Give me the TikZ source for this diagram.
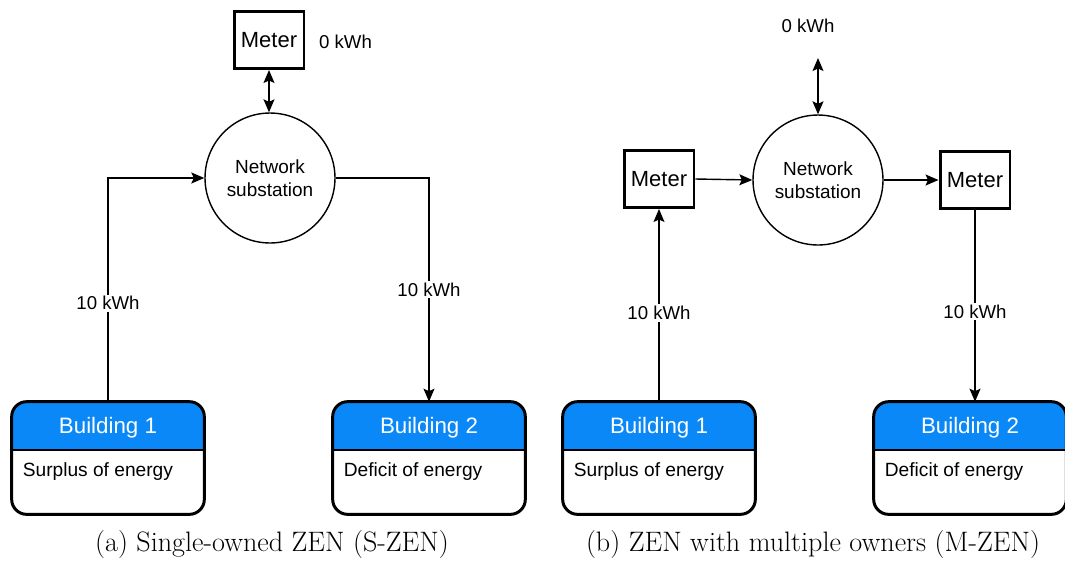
\documentclass[tikz,border=0pt]{standalone}
\usepackage{fontspec}
\newfontfamily\hv{Liberation Sans}
\usetikzlibrary{arrows.meta,calc}
\definecolor{bblue}{HTML}{0A88F8}
\newcommand\mybuilding[4]{%
  \path node[bldshape] (#1) at (#2,458) {};
  \begin{scope}
    \clip (#1.north west) rectangle ($(#1.north east)+(0,48)$);
    \fill[bblue, rounded corners=0.3cm] (#1.north west) rectangle (#1.south east);
  \end{scope}
  \draw[line width=1.7pt, rounded corners=0.3cm] (#1.north west) rectangle (#1.south east);
  \draw[line width=1.2pt] ($(#1.north west)+(0,48)$) -- ($(#1.north east)+(0,48)$);
  \node[btitle] (#1t) at ($(#1.north)+(0,26)$) {#3};
  \node[bbody, anchor=west] (#1b) at ($(#1.north west)+(5,70)$) {#4};
}
\begin{document}
\begin{tikzpicture}[x=0.02cm,y=-0.02cm,
  meterbox/.style={draw, line width=1.7pt, minimum width=1.4cm, minimum height=1.14cm, inner sep=0pt, font=\hv\fontsize{12.5}{14}\selectfont},
  sub/.style={draw, circle, line width=0.8pt, minimum size=2.6cm, inner sep=0pt, align=center, font=\hv\fontsize{10.8}{13}\selectfont},
  lbl/.style={font=\hv\fontsize{10.6}{12}\selectfont, fill=white, inner sep=1pt},
  bldshape/.style={rectangle, minimum width=3.84cm, minimum height=2.24cm, inner sep=0pt, fill=white, rounded corners=0.3cm},
  btitle/.style={text=white, font=\hv\fontsize{12.7}{14}\selectfont},
  bbody/.style={font=\hv\fontsize{10.9}{13}\selectfont},
  conn/.style={line width=0.8pt, -{Stealth[length=0.26cm,width=0.22cm,inset=0.05cm]}},
  dconn/.style={line width=0.8pt, {Stealth[length=0.26cm,width=0.22cm,inset=0.05cm]}-{Stealth[length=0.26cm,width=0.22cm,inset=0.05cm]}},
  captext/.style={font=\fontsize{16}{19}\selectfont}
]
\useasboundingbox (0,0) rectangle (1065,566);

% ---------- (a) ----------
\node[meterbox] (m1) at (269,40) {Meter};
\node[lbl, anchor=west] (t0a) at (317,42) {0 kWh};
\node[sub] (c1) at (270,178) {Network\\substation};
\draw[dconn] (m1.south) -- (m1.south |- c1.north);
\mybuilding{b1}{108}{Building 1}{Surplus of energy}
\mybuilding{b2}{429}{Building 2}{Deficit of energy}
\draw[conn] (b1.north) |- node[lbl, pos=0.22] (l1) {10 kWh} (c1.west);
\draw[conn] (c1.east) -| node[lbl, pos=0.75] (l2) {10 kWh} (b2.north);
\node[captext] (capa) at (272,544) {(a) Single-owned ZEN (S-ZEN)};

% ---------- (b) ----------
\node[lbl] (t0b) at (808,26) {0 kWh};
\node[sub] (c2) at (818,180) {Network\\substation};
\coordinate (top2) at (818,58);
\draw[dconn] (top2) -- (c2.north);
\node[meterbox] (m2) at (659,179) {Meter};
\node[meterbox] (m3) at (975,180) {Meter};
\draw[conn] (m2.east) -- (c2.west);
\draw[conn] (c2.east) -- (m3.west);
\mybuilding{b3}{659}{Building 1}{Surplus of energy}
\mybuilding{b4}{970}{Building 2}{Deficit of energy}
\draw[conn] (b3.north) -- node[lbl, pos=0.46] (l3) {10 kWh} (m2.south);
\draw[conn] (m3.south) -- node[lbl, pos=0.53] (l4) {10 kWh} (m3.south |- b4.north);
\node[captext] (capb) at (813,544) {(b) ZEN with multiple owners (M-ZEN)};
\end{tikzpicture}
\end{document}
